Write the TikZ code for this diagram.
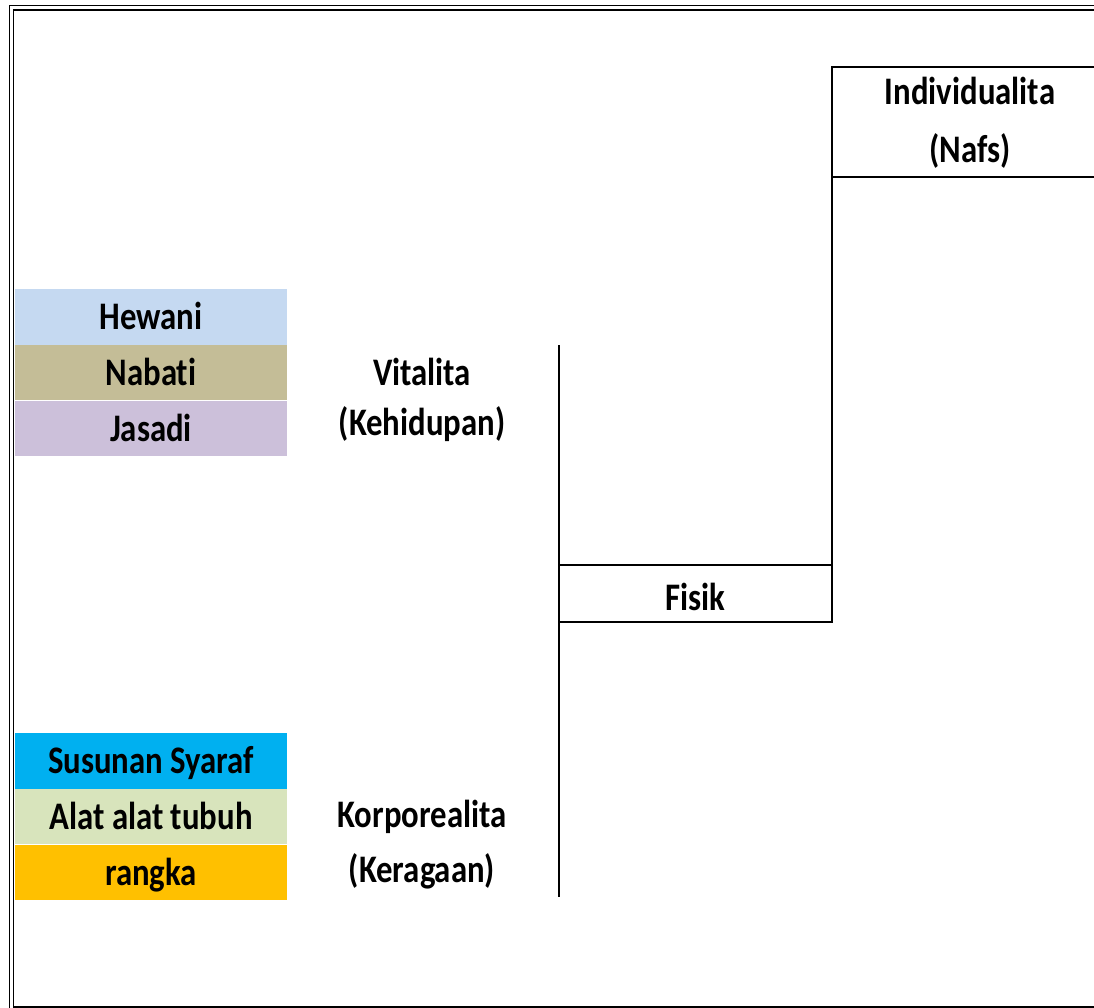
\documentclass[tikz,border=0pt]{standalone}
\usepackage{fontspec}
\setmainfont{Carlito}[FakeStretch=0.84,Ligatures=NoCommon]
\usetikzlibrary{positioning}
\definecolor{hewani}{HTML}{C5D9F1}
\definecolor{nabati}{HTML}{C4BD97}
\definecolor{jasadi}{HTML}{CCC0DA}
\definecolor{syaraf}{HTML}{00B0F0}
\definecolor{tubuh}{HTML}{D8E4BC}
\definecolor{rangka}{HTML}{FFC000}

\begin{document}
\begin{tikzpicture}[x=1pt,y=-1pt,
  every node/.style={font=\bfseries\fontsize{39}{55}\selectfont,align=center},
  block/.style={draw,rectangle,line width=1.5pt,minimum width=273pt,minimum height=57pt,inner sep=0pt,outer sep=0pt},
  cell/.style={rectangle,minimum width=272pt,minimum height=55.5pt,inner sep=0pt,text height=32pt,text depth=6pt},
  link/.style={draw,line width=1.5pt}]
  \useasboundingbox (0,0) rectangle (1094,1008);
  \clip (0,0) rectangle (1094,1008);
  \draw[double,double distance=3pt,line width=1.3pt] (11.5,8) rectangle (1120,1009);

  \node[block,minimum width=276pt,minimum height=110pt,text height=88pt,text depth=6pt,
        font=\bfseries\fontsize{39}{58}\selectfont] (nafs) at (970,122) {Individualita\\(Nafs)};
  \node[block,text height=36pt,text depth=3pt] (fisik) at (695.5,593.5) {Fisik};

  \coordinate (vtop) at (559,345);
  \coordinate (vbot) at (559,897);
  \draw[link] (vtop) -- (vbot);
  \draw[link] (fisik.north east) -- (nafs.south west);

  \node[cell,fill=hewani] (c0) at (151,316.75) {Hewani};
  \node[cell,fill=nabati,below=0pt of c0] (c1) {Nabati};
  \node[cell,fill=jasadi,below=0pt of c1] (c2) {Jasadi};
  \node[anchor=base,font=\bfseries\fontsize{39}{50}\selectfont] (vit) at (422,435) {Vitalita\\(Kehidupan)};

  \node[cell,fill=syaraf] (c3) at (151,760.75) {Susunan Syaraf};
  \node[cell,fill=tubuh,below=0pt of c3] (c4) {Alat alat tubuh};
  \node[cell,fill=rangka,below=0pt of c4] (c5) {rangka};
  \node[anchor=base] (korp) at (422,882) {Korporealita\\(Keragaan)};

\end{tikzpicture}
\end{document}
